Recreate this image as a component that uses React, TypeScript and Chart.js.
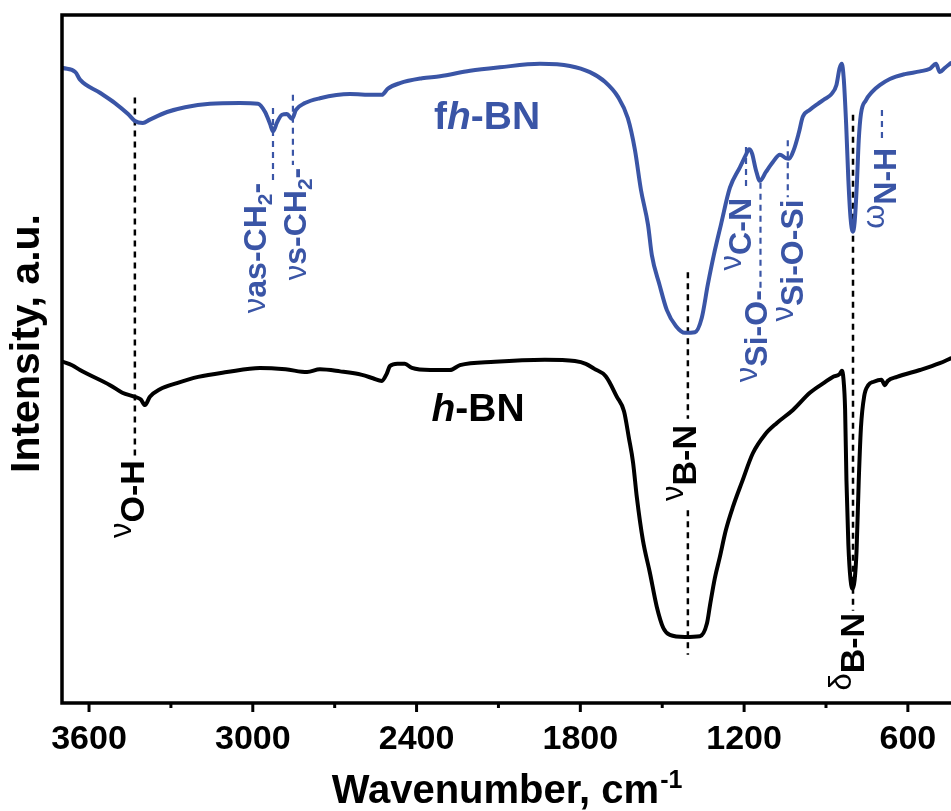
import { useEffect, useRef } from 'react';
import { Chart, registerables } from 'chart.js';

Chart.register(...registerables);

// ---------- data ----------
const fhbnWavenumbers = [
  3695, 3650, 3633, 3560, 3505, 3457, 3432, 3403, 3377, 3314, 3248, 3157, 3047, 2981, 2955, 2937,
  2926, 2911, 2893, 2875, 2856, 2842, 2809, 2754, 2644, 2560, 2527, 2505, 2461, 2380, 2314, 2204,
  2095, 1948, 1838, 1765, 1710, 1662, 1626, 1600, 1578, 1552, 1538, 1510, 1483, 1450, 1417, 1380,
  1355, 1333, 1311, 1285, 1252, 1215, 1193, 1182, 1171, 1157, 1142, 1120, 1095, 1069, 1047, 1036,
  1018, 1000, 985, 960, 930, 904, 880, 862, 850, 842, 835, 826, 818, 810, 802, 795, 787, 780, 772,
  754, 732, 703, 666, 611, 556, 519, 497, 483, 465, 443,
];
const fhbnIntensity = [
  92.3, 91.7, 90.6, 88.7, 87.2, 85.6, 84.6, 84.3, 84.8, 85.9, 86.6, 87.1, 87.2, 87.1, 85.9, 84.2,
  83.1, 84.4, 85.5, 85.6, 84.9, 86.2, 87.2, 87.9, 88.5, 88.4, 88.4, 89.3, 90.1, 90.8, 91.1, 91.9,
  92.4, 92.9, 92.6, 91.7, 90.3, 88.1, 85.0, 80.4, 74.6, 69.5, 65.1, 60.8, 57.1, 54.8, 53.8, 53.9,
  56.0, 60.8, 65.1, 69.5, 74.9, 77.9, 79.7, 80.5, 79.9, 77.5, 75.9, 77.2, 78.6, 79.7, 79.2, 79.1,
  80.4, 82.8, 85.2, 86.2, 87.1, 87.8, 88.5, 89.8, 92.3, 92.9, 90.8, 84.0, 76.0, 70.5, 68.5, 69.9,
  75.3, 81.8, 85.6, 87.6, 88.8, 89.8, 90.7, 91.4, 91.8, 92.2, 92.9, 91.7, 92.3, 93.0,
];

const hbnWavenumbers = [
  3695, 3662, 3633, 3523, 3478, 3432, 3410, 3395, 3377, 3340, 3278, 3200, 3095, 2974, 2880, 2801,
  2754, 2680, 2600, 2560, 2527, 2510, 2497, 2470, 2443, 2417, 2350, 2278, 2241, 2113, 1930, 1820,
  1780, 1750, 1707, 1666, 1640, 1622, 1607, 1593, 1571, 1545, 1520, 1496, 1472, 1417, 1362, 1336,
  1325, 1307, 1289, 1267, 1241, 1208, 1168, 1124, 1080, 1021, 959, 905, 875, 850, 842,
  836, 830, 825, 818, 810, 802, 795, 788, 780, 772, 760, 745, 725, 697, 684, 674, 640, 556, 483, 443,
];
const hbnIntensity = [
  49.6, 49.1, 48.4, 46.2, 45.1, 44.5, 44.1, 43.3, 44.5, 45.6, 46.5, 47.4, 48.1, 48.7, 48.5, 48.1,
  48.5, 48.2, 47.7, 47.2, 46.8, 47.8, 49.0, 49.3, 49.3, 48.7, 48.4, 48.4, 49.1, 49.6, 49.9, 49.7,
  49.3, 48.6, 47.5, 44.5, 42.4, 38.5, 35.0, 29.9, 23.7, 18.9, 14.0, 10.9, 9.9, 9.6, 9.7, 11.6,
  14.2, 18.2, 21.2, 25.1, 28.5, 32.1, 36.3, 39.0, 40.7, 42.6, 45.1, 46.6, 47.4, 47.8, 48.3,
  47.1, 42.7, 32.3, 23.0, 17.9, 16.6, 17.9, 22.1, 32.3, 40.0, 44.6, 46.2, 46.7, 47.0, 46.2, 46.8, 47.4, 48.4, 49.4, 50.1,
];

const xTickValues = [3600, 3300, 3000, 2700, 2400, 2100, 1800, 1500, 1200, 900, 600];
const xLabelStep = 600;
const xRange = [442, 3699];
const yRange = [0, 100];

const seriesNames = ['fh-BN', 'h-BN'];
// label anchor (wavenumber, intensity) for the two sample names
const seriesLabelWavenumbers = [2142, 2175];
const seriesLabelIntensity = [85.0, 42.6];

const xTitle = 'Wavenumber, cm';
const xTitleSup = '-1';
const yTitle = 'Intensity, a.u.';

type Band = {
  sample: 'h' | 'fh';
  w: number;
  segs: number[][];
  lw: number;
  top: number;
  greek: string;
  main: string;
  sub?: string;
  tail?: string;
  gdy: number;
};

const bands: Band[] = [
  { sample: 'h', w: 3432, segs: [[88.0, 35.8]], lw: 3432, top: 35.3, greek: 'ν', main: 'O-H', gdy: -12 },
  { sample: 'fh', w: 2926, segs: [[86.5, 76.0]], lw: 2985, top: 75.6, greek: 'ν', main: 'as-CH', sub: '2', tail: '-', gdy: 0 },
  { sample: 'fh', w: 2853, segs: [[88.4, 78.2]], lw: 2837, top: 77.8, greek: 'ν', main: 's-CH', sub: '2', tail: '-', gdy: 0 },
  { sample: 'h', w: 1406, segs: [[62.6, 41.3], [28.0, 7.0]], lw: 1410, top: 40.4, greek: 'ν', main: 'B-N', gdy: -12 },
  { sample: 'fh', w: 1193, segs: [[80.8, 74.6]], lw: 1208, top: 73.4, greek: 'ν', main: 'C-N', gdy: -9 },
  { sample: 'fh', w: 1140, segs: [[75.6, 60.3]], lw: 1150, top: 60.0, greek: 'ν', main: 'Si-O-', gdy: -9 },
  { sample: 'fh', w: 1040, segs: [[81.8, 73.5]], lw: 1018, top: 73.2, greek: 'ν', main: 'Si-O-Si', gdy: -9 },
  { sample: 'h', w: 801, segs: [[85.5, 13.4]], lw: 796, top: 13.1, greek: 'δ', main: 'B-N', gdy: -12 },
  { sample: 'fh', w: 695, segs: [[86.2, 81.8]], lw: 677, top: 80.7, greek: 'ω', main: 'N-H', gdy: -11 },
];

// ---------- styles ----------
const FONT = '"Liberation Sans", Arial, Helvetica, sans-serif';
const BLUE = '#3a55a6';
const BLACK = '#000000';

type Run = { t: string; font: string; dy: number };

function runsWidth(ctx: CanvasRenderingContext2D, runs: Run[]) {
  let w = 0;
  for (const r of runs) {
    ctx.font = r.font;
    w += ctx.measureText(r.t).width;
  }
  return w;
}

function drawRuns(ctx: CanvasRenderingContext2D, runs: Run[], x0: number) {
  let x = x0;
  for (const r of runs) {
    ctx.font = r.font;
    ctx.fillText(r.t, x, r.dy);
    x += ctx.measureText(r.t).width;
  }
}

function bandRuns(b: Band): Run[] {
  const black = b.sample === 'h';
  const size = black ? 34 : 32;
  const gsize = black ? 31 : 31;
  const runs: Run[] = [
    { t: b.greek, font: `${gsize}px ${FONT}`, dy: b.gdy },
    { t: b.main, font: `bold ${size}px ${FONT}`, dy: 0 },
  ];
  if (b.sub) runs.push({ t: b.sub, font: `bold 21px ${FONT}`, dy: 9 });
  if (b.tail) runs.push({ t: b.tail, font: `bold ${size}px ${FONT}`, dy: 0 });
  return runs;
}

function seriesRuns(name: string): Run[] {
  const f = `bold 39px ${FONT}`;
  const fi = `italic bold 39px ${FONT}`;
  const i = name.indexOf('h');
  const runs: Run[] = [];
  if (i > 0) runs.push({ t: name.slice(0, i), font: f, dy: 0 });
  runs.push({ t: 'h', font: fi, dy: 0 });
  runs.push({ t: name.slice(i + 1), font: f, dy: 0 });
  return runs;
}

const overlay = {
  id: 'overlay',
  beforeDatasetsDraw(chart: any) {
    const { ctx, scales } = chart;
    const xs = scales.x;
    const ys = scales.y;
    ctx.save();
    for (const b of bands) {
      const black = b.sample === 'h';
      ctx.strokeStyle = black ? BLACK : BLUE;
      ctx.lineWidth = black ? 2.5 : 2.2;
      ctx.setLineDash([6, 5]);
      const px = xs.getPixelForValue(b.w);
      for (const s of b.segs) {
        ctx.beginPath();
        ctx.moveTo(px, ys.getPixelForValue(s[0]));
        ctx.lineTo(px, ys.getPixelForValue(s[1]));
        ctx.stroke();
      }
    }
    ctx.restore();
  },
  afterDraw(chart: any) {
    const { ctx, chartArea, scales } = chart;
    const xs = scales.x;
    const ys = scales.y;
    const { left, right, top, bottom } = chartArea;
    ctx.save();

    // frame
    ctx.setLineDash([]);
    ctx.strokeStyle = BLACK;
    ctx.lineWidth = 3.5;
    ctx.lineJoin = 'miter';
    ctx.beginPath();
    ctx.moveTo(right + 10, top);
    ctx.lineTo(left, top);
    ctx.lineTo(left, bottom);
    ctx.lineTo(right + 10, bottom);
    ctx.stroke();

    // tick marks
    ctx.lineWidth = 3;
    for (const t of xs.ticks) {
      const px = xs.getPixelForValue(t.value);
      if (px > right + 1 || px < left - 1) continue;
      const len = t.value % xLabelStep === 0 ? 9 : 5;
      ctx.beginPath();
      ctx.moveTo(px, bottom);
      ctx.lineTo(px, bottom + len);
      ctx.stroke();
    }

    // band labels (rotated)
    ctx.textBaseline = 'middle';
    ctx.textAlign = 'left';
    for (const b of bands) {
      const runs = bandRuns(b);
      ctx.fillStyle = b.sample === 'h' ? BLACK : BLUE;
      const px = xs.getPixelForValue(b.lw);
      const py = ys.getPixelForValue(b.top);
      ctx.save();
      ctx.translate(px, py);
      ctx.rotate(-Math.PI / 2);
      const W = runsWidth(ctx, runs);
      drawRuns(ctx, runs, -W);
      ctx.restore();
    }

    // sample names
    seriesNames.forEach((name, i) => {
      const runs = seriesRuns(name);
      ctx.fillStyle = i === 0 ? BLUE : BLACK;
      const px = xs.getPixelForValue(seriesLabelWavenumbers[i]);
      const py = ys.getPixelForValue(seriesLabelIntensity[i]);
      ctx.save();
      ctx.translate(px, py);
      const W = runsWidth(ctx, runs);
      drawRuns(ctx, runs, -W / 2);
      ctx.restore();
    });

    // y title
    ctx.fillStyle = BLACK;
    ctx.save();
    ctx.translate(27.5, 343.5);
    ctx.rotate(-Math.PI / 2);
    ctx.textAlign = 'center';
    ctx.textBaseline = 'middle';
    ctx.font = `bold 41px ${FONT}`;
    ctx.fillText(yTitle, 0, 0);
    ctx.restore();

    // x title with superscript
    ctx.save();
    ctx.textAlign = 'left';
    ctx.textBaseline = 'alphabetic';
    const mainFont = `bold 40px ${FONT}`;
    const supFont = `bold 25px ${FONT}`;
    ctx.font = mainFont;
    const w1 = ctx.measureText(xTitle).width;
    ctx.font = supFont;
    const w2 = ctx.measureText(xTitleSup).width;
    const cx = (left + right) / 2;
    const x0 = cx - (w1 + w2) / 2;
    const base = 803;
    ctx.font = mainFont;
    ctx.fillText(xTitle, x0, base);
    ctx.font = supFont;
    ctx.fillText(xTitleSup, x0 + w1 + 1, base - 15);
    ctx.restore();

    ctx.restore();
  },
};

export default function App() {
  const ref = useRef<HTMLCanvasElement>(null);
  useEffect(() => {
    const canvas = ref.current;
    if (!canvas) return;
    const chart = new Chart(canvas, {
      type: 'line',
      data: {
        datasets: [
          {
            label: seriesNames[0],
            data: fhbnWavenumbers.map((w, i) => ({ x: w, y: fhbnIntensity[i] })),
            borderColor: BLUE,
            borderWidth: 4,
            pointRadius: 0,
            fill: false,
            cubicInterpolationMode: 'monotone',
            borderJoinStyle: 'round',
            borderCapStyle: 'round',
          },
          {
            label: seriesNames[1],
            data: hbnWavenumbers.map((w, i) => ({ x: w, y: hbnIntensity[i] })),
            borderColor: BLACK,
            borderWidth: 4,
            pointRadius: 0,
            fill: false,
            cubicInterpolationMode: 'monotone',
            borderJoinStyle: 'round',
            borderCapStyle: 'round',
          },
        ],
      },
      options: {
        animation: false,
        responsive: false,
        maintainAspectRatio: false,
        layout: { padding: { left: 62, top: 15, right: 0, bottom: 0 } },
        plugins: {
          legend: { display: false },
          tooltip: { enabled: false },
        },
        scales: {
          x: {
            type: 'linear',
            reverse: true,
            min: xRange[0],
            max: xRange[1],
            grid: { display: false, drawTicks: false },
            border: { display: false },
            ticks: {
              autoSkip: false,
              maxRotation: 0,
              minRotation: 0,
              padding: 16,
              color: BLACK,
              font: { family: FONT, size: 34, weight: 'bold' },
              callback: (v: any) => (Number(v) % xLabelStep === 0 ? String(v) : ''),
            },
            afterBuildTicks: (s: any) => {
              s.ticks = xTickValues.map((v) => ({ value: v }));
            },
            afterFit: (s: any) => {
              s.height = 108;
              s.paddingLeft = 0;
              s.paddingRight = 0;
            },
          },
          y: {
            display: false,
            min: yRange[0],
            max: yRange[1],
          },
        },
      } as any,
      plugins: [overlay],
    });
    return () => chart.destroy();
  }, []);
  return (
    <div style={{ position: 'fixed', left: 0, top: 0, width: 951, height: 811, background: '#fff' }}>
      <canvas ref={ref} width={951} height={811} style={{ display: 'block', width: 951, height: 811 }} />
    </div>
  );
}
